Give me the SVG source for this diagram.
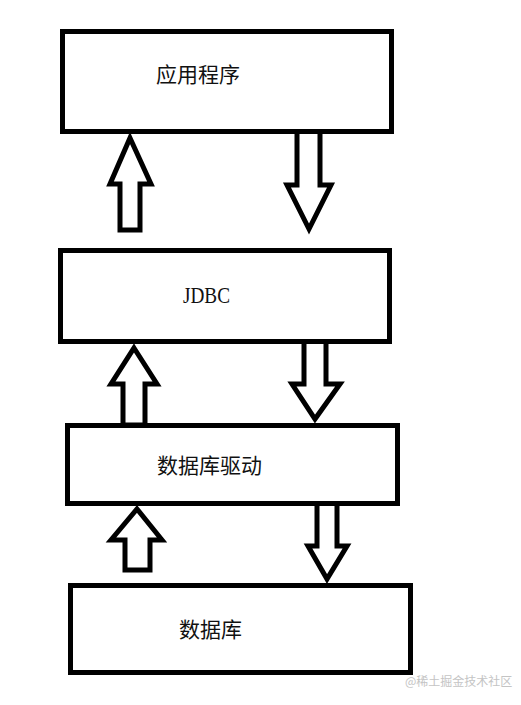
<svg xmlns="http://www.w3.org/2000/svg" width="521" height="705" viewBox="0 0 521 705">
<style>
.box{fill:#fff;stroke:#000;stroke-width:5}
.arr{fill:#fff;stroke:#000;stroke-width:5;stroke-linejoin:miter;stroke-miterlimit:10}
.cjk{font-family:"Noto Sans CJK SC","Noto Sans",sans-serif;font-size:21px;fill:#111}
.lat{font-family:"Liberation Serif",serif;font-size:23px;fill:#111}
.wm{font-family:"Noto Sans CJK SC",sans-serif;font-size:12px;fill:#c4c4c4}
</style>
<rect width="521" height="705" fill="#fff"/>
<g id="connectors">
<polygon class="arr" points="130,138 151,184 140,184 140,230 120,230 120,184 110,184"/>
<polygon class="arr" points="297,131 320,131 320,185 331,185 309,229 287,185 297,185"/>
<polygon class="arr" points="134,348 157,384 145,384 145,425 123,425 123,384 111,384"/>
<polygon class="arr" points="304,341 326,341 326,384 340,384 315,419 292,384 304,384"/>
<polygon class="arr" points="137,509 162,540 150,540 150,570 125,570 125,540 111,540"/>
<polygon class="arr" points="317,503 337,503 337,546 347,546 327,579 308,546 317,546"/>
</g>
<g id="app">
<rect class="box" x="62.5" y="31.5" width="329" height="100"/>
<text class="cjk" x="156" y="82">应用程序</text>
</g>
<g id="jdbc">
<rect class="box" x="60.5" y="250.5" width="329" height="91"/>
<text class="lat" x="183" y="303" textLength="47" lengthAdjust="spacingAndGlyphs">JDBC</text>
</g>
<g id="driver">
<rect class="box" x="67.5" y="425.5" width="330" height="78"/>
<text class="cjk" x="157" y="473">数据库驱动</text>
</g>
<g id="db">
<rect class="box" x="70.5" y="585.5" width="340" height="87"/>
<text class="cjk" x="179" y="637">数据库</text>
</g>
<text class="wm" x="405" y="686">@稀土掘金技术社区</text>
</svg>
